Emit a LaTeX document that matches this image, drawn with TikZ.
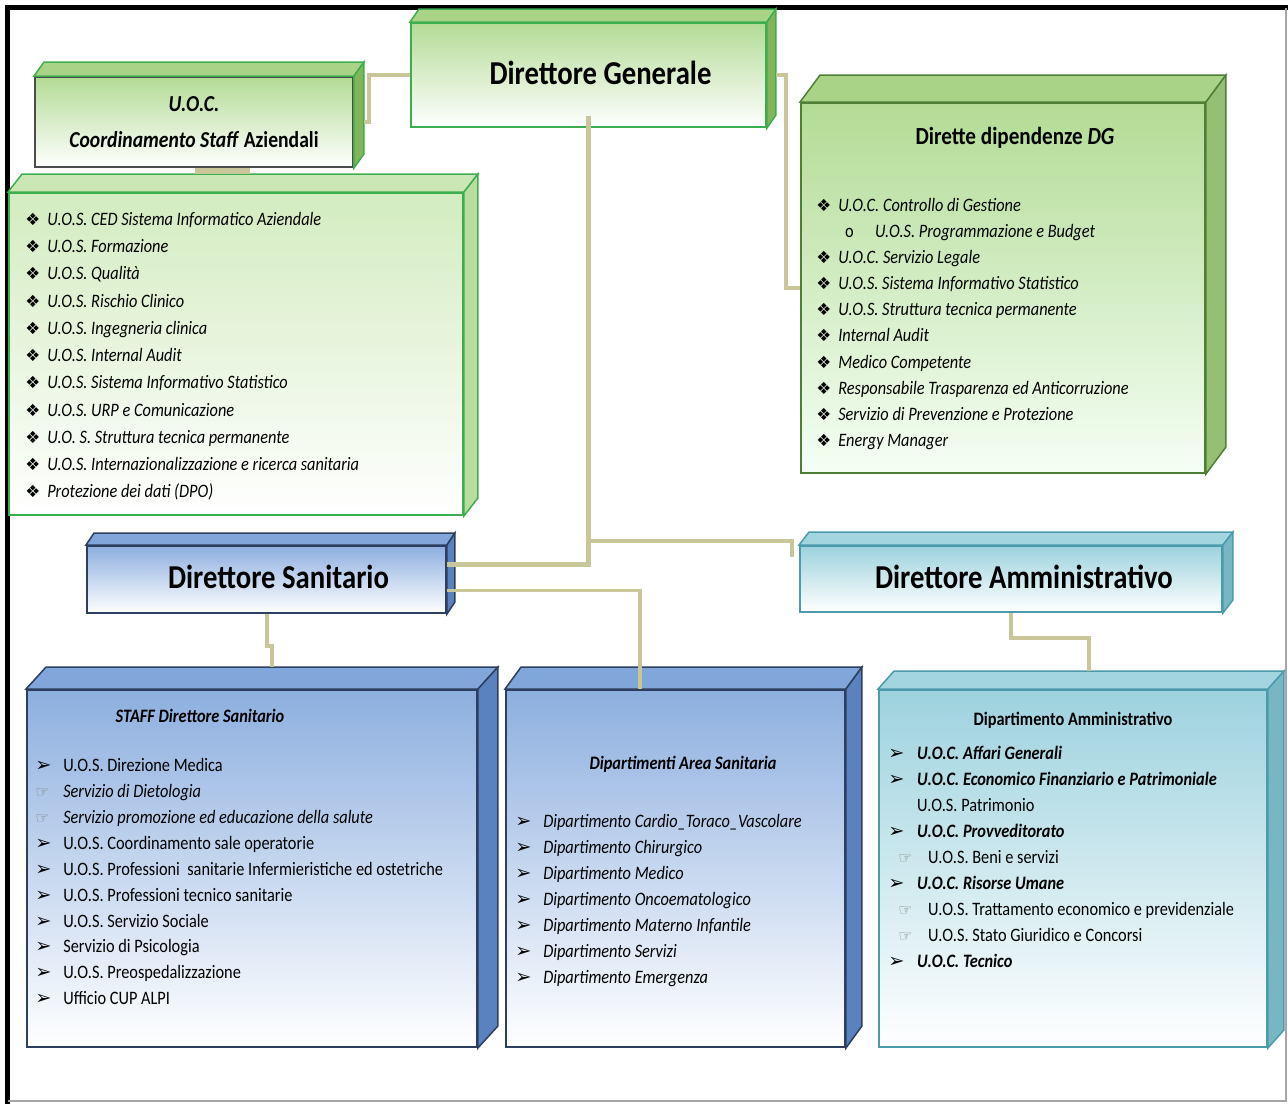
\documentclass[tikz,border=0pt]{standalone}
\usepackage{fontspec}
\setmainfont{Carlito}[FakeStretch=0.86]
\newfontfamily\symb{DejaVu Sans}
\usepackage{tikz}
\usetikzlibrary{calc,positioning}
\definecolor{connc}{HTML}{C9C79A}
\definecolor{grnline}{HTML}{3DAE4F}
\definecolor{grntop}{HTML}{B3DB95}
\definecolor{grnface}{HTML}{A9D487}
\definecolor{grnside}{HTML}{82B55A}
\definecolor{ddline}{HTML}{4E7F35}
\definecolor{palegrn}{HTML}{D3ECC0}
\definecolor{bluline}{HTML}{2D3E5E}
\definecolor{blutop}{HTML}{8DAFDF}
\definecolor{bluface}{HTML}{80A6DA}
\definecolor{bluside}{HTML}{5A82BF}
\definecolor{tealline}{HTML}{4B9BAC}
\definecolor{tealtop}{HTML}{9DD2DE}
\definecolor{tealface}{HTML}{A3D5E1}
\definecolor{tealside}{HTML}{79B6C4}
\tikzset{
  front/.style={draw,line width=0.04cm,inner sep=2pt,align=center},
  greenbox/.style={front,draw=grnline,top color=grntop,bottom color=white},
  uocbox/.style={front,draw=black!70,top color=grntop,bottom color=white},
  listbox/.style={front,draw=grnline,top color=palegrn,bottom color=white},
  ddbox/.style={front,draw=ddline,top color=grntop,bottom color=green!4!white},
  bluebox/.style={front,draw=bluline,top color=blutop,bottom color=white},
  tealbox/.style={front,draw=tealline,top color=tealtop,bottom color=white},
  conn/.style={draw=connc,line width=0.08cm},
  headtitle/.style={font=\bfseries\fontsize{19}{22}\selectfont},
  subtitle/.style={font=\bfseries\fontsize{10.8}{12}\selectfont},
  itemlist/.style={anchor=north west,inner sep=0pt,align=left,font=\fontsize{10.8}{14.9}\selectfont}
}
% bullets
\newcommand{\dia}{{\symb\fontsize{9.5}{9.5}\selectfont\char"2756}}
\newcommand{\arw}{{\symb\fontsize{11}{11}\selectfont\char"27A2}}
\newcommand{\hnd}{{\symb\fontsize{9}{9}\selectfont\color{black!50}\char"261E}}
\newcommand{\mk}[2]{\makebox[#1][l]{#2}}
% top and side faces of a box: node, dx, dy, top, side, edge
\newcommand{\boxsides}[6]{%
  \filldraw[draw=#6,fill=#4,line width=0.03cm] (#1.north west) -- ++(#2,-#3) -- ($(#1.north east)+(#2,-#3)$) -- (#1.north east) -- cycle;
  \filldraw[draw=#6,fill=#5,line width=0.03cm] (#1.north east) -- ++(#2,-#3) -- ($(#1.south east)+(#2,-#3)$) -- (#1.south east) -- cycle;}

\begin{document}
\begin{tikzpicture}[x=0.02cm,y=-0.02cm]
\useasboundingbox (0,0) rectangle (1288,1104);
% frame
\draw[line width=0.1cm] (7.5,1104) |- (1288,7.5);
\draw[line width=0.03cm,black!35] (1286,8) |- (8,1101);

% boxes
\node[greenbox,minimum width=7.1cm,minimum height=2.08cm] (dg) at (588.5,75) {};
\boxsides{dg}{9}{13}{grnface}{grnside}{grnline}
\node[uocbox,minimum width=6.36cm,minimum height=1.8cm,font=\bfseries\fontsize{13}{20.5}\selectfont] (uoc) at (194,122) {\textit{U.O.C.}\\\textit{Coordinamento Staff} Aziendali};
\boxsides{uoc}{10}{14}{grnface}{grnside}{grnline}
\node[listbox,minimum width=9.08cm,minimum height=6.44cm] (stf) at (236,354) {};
\boxsides{stf}{14}{18}{palegrn!80!grnface}{grnface!80!white}{grnline}
\node[ddbox,minimum width=8.08cm,minimum height=7.4cm] (dd) at (1003,288) {};
\boxsides{dd}{20}{27}{grnface}{grnside!85!white}{ddline}
\node[bluebox,minimum width=7.18cm,minimum height=1.34cm] (ds) at (266.5,579.5) {};
\boxsides{ds}{8}{12}{bluface}{bluside}{bluline}
\node[tealbox,minimum width=8.44cm,minimum height=1.32cm] (da) at (1011,579) {};
\boxsides{da}{10}{13}{tealface}{tealside}{tealline}
\node[bluebox,minimum width=9cm,minimum height=7.14cm] (staffds) at (252,868.5) {};
\boxsides{staffds}{20}{22}{bluface}{bluside}{bluline}
\node[bluebox,minimum width=6.78cm,minimum height=7.14cm] (area) at (675.5,868.5) {};
\boxsides{area}{16}{22}{bluface}{bluside}{bluline}
\node[tealbox,minimum width=7.76cm,minimum height=7.14cm] (dipamm) at (1073,868.5) {};
\boxsides{dipamm}{16}{18}{tealface}{tealside}{tealline}

% titles
\node[headtitle] (dgtitle) at ($(dg)+(12,-2)$) {Direttore Generale};
\node[headtitle] (dstitle) at ($(ds)+(12,-3)$) {Direttore Sanitario};
\node[headtitle] (datitle) at ($(da)+(13,-2)$) {Direttore Amministrativo};
\node[font=\bfseries\fontsize{14}{16}\selectfont] (ddtitle) at (1015,138) {Dirette dipendenze \textit{DG}};
\node[subtitle,font=\bfseries\itshape\fontsize{10.8}{12}\selectfont] (sdstitle) at (200,716) {STAFF Direttore Sanitario};
\node[subtitle,font=\bfseries\itshape\fontsize{10.8}{12}\selectfont] (areatitle) at (683,764) {Dipartimenti Area Sanitaria};
\node[subtitle] (amtitle) at (1073,720) {Dipartimento Amministrativo};

% lists
\node[itemlist,font=\itshape\fontsize{10.8}{15.5}\selectfont] (stflist) at (25,212) {%
\mk{12.5pt}{\dia}U.O.S. CED Sistema Informatico Aziendale\\
\mk{12.5pt}{\dia}U.O.S. Formazione\\
\mk{12.5pt}{\dia}U.O.S. Qualità\\
\mk{12.5pt}{\dia}U.O.S. Rischio Clinico\\
\mk{12.5pt}{\dia}U.O.S. Ingegneria clinica\\
\mk{12.5pt}{\dia}U.O.S. Internal Audit\\
\mk{12.5pt}{\dia}U.O.S. Sistema Informativo Statistico\\
\mk{12.5pt}{\dia}U.O.S. URP e Comunicazione\\
\mk{12.5pt}{\dia}U.O. S. Struttura tecnica permanente\\
\mk{12.5pt}{\dia}U.O.S. Internazionalizzazione e ricerca sanitaria\\
\mk{12.5pt}{\dia}Protezione dei dati (DPO)};
\node[itemlist,font=\itshape\fontsize{10.8}{14.85}\selectfont] (ddlist) at (816,198) {%
\mk{12.5pt}{\dia}U.O.C. Controllo di Gestione\\
\hspace*{16.4pt}\mk{17pt}{\upshape o}U.O.S. Programmazione e Budget\\
\mk{12.5pt}{\dia}U.O.C. Servizio Legale\\
\mk{12.5pt}{\dia}U.O.S. Sistema Informativo Statistico\\
\mk{12.5pt}{\dia}U.O.S. Struttura tecnica permanente\\
\mk{12.5pt}{\dia}Internal Audit\\
\mk{12.5pt}{\dia}Medico Competente\\
\mk{12.5pt}{\dia}Responsabile Trasparenza ed Anticorruzione\\
\mk{12.5pt}{\dia}Servizio di Prevenzione e Protezione\\
\mk{12.5pt}{\dia}Energy Manager};
\node[itemlist,font=\fontsize{10.8}{14.75}\selectfont] (sdslist) at (35,758) {%
\mk{15.9pt}{\arw}U.O.S. Direzione Medica\\
\mk{15.9pt}{\hnd}\textit{Servizio di Dietologia}\\
\mk{15.9pt}{\hnd}\textit{Servizio promozione ed educazione della salute}\\
\mk{15.9pt}{\arw}U.O.S. Coordinamento sale operatorie\\
\mk{15.9pt}{\arw}U.O.S. Professioni\ \ sanitarie Infermieristiche ed ostetriche\\
\mk{15.9pt}{\arw}U.O.S. Professioni tecnico sanitarie\\
\mk{15.9pt}{\arw}U.O.S. Servizio Sociale\\
\mk{15.9pt}{\arw}Servizio di Psicologia\\
\mk{15.9pt}{\arw}U.O.S. Preospedalizzazione\\
\mk{15.9pt}{\arw}Ufficio CUP ALPI};
\node[itemlist,font=\itshape\fontsize{10.8}{14.75}\selectfont] (arealist) at (515,814) {%
\mk{15.9pt}{\arw}Dipartimento Cardio\_Toraco\_Vascolare\\
\mk{15.9pt}{\arw}Dipartimento Chirurgico\\
\mk{15.9pt}{\arw}Dipartimento Medico\\
\mk{15.9pt}{\arw}Dipartimento Oncoematologico\\
\mk{15.9pt}{\arw}Dipartimento Materno Infantile\\
\mk{15.9pt}{\arw}Dipartimento Servizi\\
\mk{15.9pt}{\arw}Dipartimento Emergenza};
\node[itemlist,font=\fontsize{10.8}{14.8}\selectfont] (amlist) at (888,746) {%
\mk{16.4pt}{\arw}\textbf{\textit{U.O.C. Affari Generali}}\\
\mk{16.4pt}{\arw}\textbf{\textit{U.O.C. Economico Finanziario e Patrimoniale}}\\
\mk{16.4pt}{}U.O.S. Patrimonio\\
\mk{16.4pt}{\arw}\textbf{\textit{U.O.C. Provveditorato}}\\
\hspace*{5.7pt}\mk{17pt}{\hnd}U.O.S. Beni e servizi\\
\mk{16.4pt}{\arw}\textbf{\textit{U.O.C. Risorse Umane}}\\
\hspace*{5.7pt}\mk{17pt}{\hnd}U.O.S. Trattamento economico e previdenziale\\
\hspace*{5.7pt}\mk{17pt}{\hnd}U.O.S. Stato Giuridico e Concorsi\\
\mk{16.4pt}{\arw}\textbf{\textit{U.O.C. Tecnico}}};

% connectors
\draw[conn] (dg.west) -| ($(uoc.east)+(15,0)$) -- ($(uoc.east)+(10,0)$);
\fill[connc] ($(uoc.south)+(1,0)$) rectangle ($(stf.north)+(14,-18)$);
\draw[conn] ($(dg.east)+(9,0)$) -| ($(dd.west)+(-14,0)$) -- (dd.west);
\draw[conn,line width=0.09cm] ($(dg.south)+(0,-12)$) |- ($(ds.east)+(0,-15)$);
\draw[conn] ($(dg.south)+(0,413)$) -| ($(da.west)+(-7,-22)$);
\draw[conn] ($(ds.east)+(0,11)$) -| ($(area.north)+(-36,0)$);
\draw[conn] (ds.south) -- ++(0,32) -| ($(staffds.north)+(20,-22)$);
\draw[conn] (da.south) -- ++(0,25) -| ($(dipamm.north)+(16,-18)$);
\end{tikzpicture}
\end{document}
